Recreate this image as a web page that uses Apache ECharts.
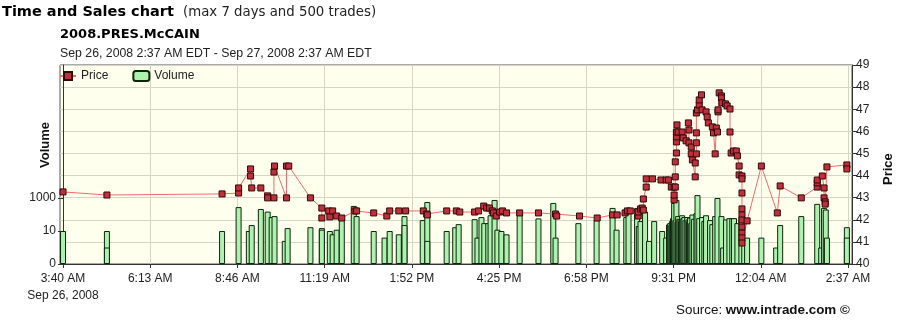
<!DOCTYPE html>
<html><head><meta charset="utf-8">
<script src="https://cdn.jsdelivr.net/npm/echarts@6/dist/echarts.min.js"></script>
<style>html,body{margin:0;padding:0;background:#fff}#c{width:900px;height:326px}</style>
</head><body><div id="c"></div>
<script>
// x axis: minutes after Sep 26, 2008 3:40 AM
const xTickMinutes = [0,153,306,459,612,765,918,1071,1224,1377];
const xTickLabels = ['3:40 AM\nSep 26, 2008','6:13 AM','8:46 AM','11:19 AM','1:52 PM','4:25 PM','6:58 PM','9:31 PM','12:04 AM','2:37 AM'];
const volumeTickValues = [0,10,1000];
const volumeTickLabels = ['0','10','1000'];

const priceMinutes = [0,77,279,308,308,329,329,331,347,359,359,370,370,371,392,392,396,434,454,454,466,468,473,480,489,512,515,545,568,573,589,601,632,638,639,673,690,696,722,729,738,743,748,753,755,760,766,771,778,801,834,864,866,906,937,964,972,986,990,995,1009,1009,1013,1016,1018,1018,1023,1023,1034,1049,1058,1062,1067,1072,1072,1072,1074,1074,1074,1076,1076,1076,1076,1077,1079,1086,1088,1093,1097,1098,1098,1102,1102,1104,1109,1109,1111,1111,1111,1111,1113,1116,1116,1120,1121,1128,1130,1132,1139,1141,1144,1146,1148,1149,1149,1151,1155,1155,1156,1162,1165,1170,1170,1172,1176,1181,1183,1186,1186,1191,1191,1191,1191,1191,1191,1191,1191,1191,1191,1200,1225,1253,1258,1295,1323,1323,1323,1332,1335,1335,1337,1337,1340,1375,1375];
const priceValues = [43.26,43.12,43.17,43.21,43.44,44.30,43.98,43.44,43.44,43.08,42.99,42.99,44.16,44.43,42.99,44.43,44.43,42.99,42.53,42.08,42.40,42.13,42.40,42.17,42.08,42.40,42.40,42.31,42.17,42.40,42.40,42.40,42.40,42.26,42.22,42.40,42.40,42.35,42.35,42.40,42.62,42.53,42.53,42.40,42.31,42.17,42.35,42.40,42.31,42.31,42.31,42.26,42.17,42.17,42.08,42.22,42.22,42.31,42.40,42.40,42.17,42.35,42.49,42.53,42.44,42.94,43.48,43.85,43.85,43.80,43.80,43.80,43.48,43.48,42.90,43.12,43.48,43.94,44.62,45.02,45.52,45.75,45.97,46.29,45.97,45.97,45.70,45.57,46.38,46.06,45.48,45.29,44.98,44.71,43.94,44.57,44.98,45.48,45.93,46.83,46.97,47.19,47.42,47.65,46.97,46.88,46.65,46.38,46.20,45.93,44.98,46.15,45.97,46.88,46.97,47.74,47.60,47.51,47.29,47.24,47.15,47.01,45.97,45.02,45.11,45.11,44.89,44.43,44.03,43.98,43.85,43.21,42.49,42.22,41.99,41.67,41.40,41.18,40.95,41.95,44.43,42.31,43.53,42.99,43.48,43.67,43.80,43.98,43.44,42.99,42.81,42.71,44.39,44.48,44.30];

const volumeMinutes = [0,77,77,279,308,326,331,347,359,366,371,389,394,434,454,454,468,473,480,489,510,515,545,564,573,589,599,599,631,639,639,673,688,694,722,727,734,739,746,750,757,762,769,778,801,834,860,864,904,936,964,971,988,992,1007,1010,1013,1021,1028,1037,1051,1058,1063,1065,1067,1068,1070,1071,1072,1074,1076,1078,1079,1081,1083,1084,1086,1088,1090,1092,1095,1097,1098,1100,1102,1104,1107,1111,1113,1116,1121,1125,1128,1135,1139,1144,1148,1155,1158,1163,1169,1174,1177,1183,1190,1195,1200,1225,1251,1258,1295,1323,1330,1335,1338,1340,1375,1375];
const volumeValues = [10,10,5,10,280,10,23,215,150,70,80,7,15,17,15,12,10,9,12,60,330,80,10,8,10,9,80,23,46,570,7,10,17,26,52,8,70,30,30,90,760,12,10,9,120,58,500,8,30,46,250,12,70,200,250,20,40,150,7,40,10,8,25,30,23,40,60,50,500,45,760,35,80,55,50,40,90,60,70,45,70,50,40,65,30,100,55,120,1500,60,70,40,90,46,26,80,1000,80,5,50,60,60,60,30,60,7,8,8,5,23,80,440,5,250,200,8,17,8];

function volLevel(v){ return v <= 10 ? v / 10 : 1 + Math.log10(v / 10) / 2; }

const FONT = 'Liberation Sans';
const chart = echarts.init(document.getElementById('c'), null, {renderer:'canvas'});
chart.setOption({
  animation:false,
  backgroundColor:'#fff',
  grid:{left:60,right:48,top:65,bottom:62,show:true,backgroundColor:'#ffffee',borderColor:'#555',borderWidth:1},
  legend:{
    left:54,top:65,itemWidth:16,itemHeight:10,itemGap:24,
    textStyle:{fontFamily:FONT,fontSize:12,color:'#222'},
    data:['Price','Volume']
  },
  xAxis:{
    type:'value',min:-5.3,max:1384,
    axisLine:{show:true,lineStyle:{color:'#333',width:1}},
    axisTick:{show:true,customValues:xTickMinutes,length:4,lineStyle:{color:'#333'}},
    axisLabel:{customValues:xTickMinutes,fontFamily:FONT,fontSize:12,color:'#222',margin:6,lineHeight:17,
      formatter:function(v){const i=xTickMinutes.indexOf(v);return i>=0?xTickLabels[i]:'';}},
    splitLine:{show:true,lineStyle:{color:'#d6d6c6',width:1}}
  },
  yAxis:[
    {type:'value',position:'left',min:0,max:199/33,
     axisLine:{show:true,lineStyle:{color:'#333',width:1}},
     axisTick:{show:true,customValues:volumeTickValues.map(volLevel),length:5,lineStyle:{color:'#333'}},
     axisLabel:{customValues:volumeTickValues.map(volLevel),fontFamily:FONT,fontSize:12,color:'#222',margin:4,
       formatter:function(v){const lv=volumeTickValues.map(volLevel);let i=lv.findIndex(x=>Math.abs(x-v)<1e-6);return i>=0?volumeTickLabels[i]:'';}},
     splitLine:{show:false}},
    {type:'value',position:'right',min:40,max:49,interval:1,
     axisLine:{show:true,lineStyle:{color:'#333',width:1}},
     axisTick:{show:true,length:5,lineStyle:{color:'#333'}},
     axisLabel:{fontFamily:FONT,fontSize:12,color:'#222',margin:4},
     splitLine:{show:true,lineStyle:{color:'#d6d6c6',width:1}}}
  ],
  series:[
    {name:'Volume',type:'bar',xAxisIndex:0,yAxisIndex:0,barWidth:6,z:2,
     itemStyle:{color:'#aef0ae',borderColor:'#0c260c',borderWidth:1},
     data:volumeMinutes.map((t,i)=>[t,volLevel(volumeValues[i])])},
    {name:'Price',type:'line',xAxisIndex:0,yAxisIndex:1,z:3,
     symbol:'rect',symbolSize:6,showAllSymbol:true,
     lineStyle:{color:'#f06a6a',width:1},
     itemStyle:{color:'#c0303c',borderColor:'#300808',borderWidth:1},
     data:priceMinutes.map((t,i)=>[t,priceValues[i]])}
  ],
  graphic:[
    {type:'text',left:2,top:5,style:{text:'Time and Sales chart',font:'bold 14.5px "DejaVu Sans"',fill:'#000'}},
    {type:'text',left:183,top:6,style:{text:'(max 7 days and 500 trades)',font:'13.3px "DejaVu Sans"',fill:'#222'}},
    {type:'text',left:60,top:28,style:{text:'2008.PRES.McCAIN',font:'bold 13px "DejaVu Sans"',fill:'#000'}},
    {type:'text',left:60,top:48,style:{text:'Sep 26, 2008 2:37 AM EDT - Sep 27, 2008 2:37 AM EDT',font:'12.3px "Liberation Sans"',fill:'#222'}},
    {type:'text',x:39,y:168,rotation:Math.PI/2,style:{text:'Volume',font:'bold 13px "Liberation Sans"',fill:'#111'}},
    {type:'text',x:882,y:185,rotation:Math.PI/2,style:{text:'Price',font:'bold 13px "Liberation Sans"',fill:'#111'}},
    {type:'text',left:676,top:304,style:{rich:{a:{font:'13.4px "Liberation Sans"',fill:'#111'},b:{font:'bold 13.4px "Liberation Sans"',fill:'#111'}},text:'{a|Source: }{b|www.intrade.com ©}'}}
  ]
});
</script></body></html>
